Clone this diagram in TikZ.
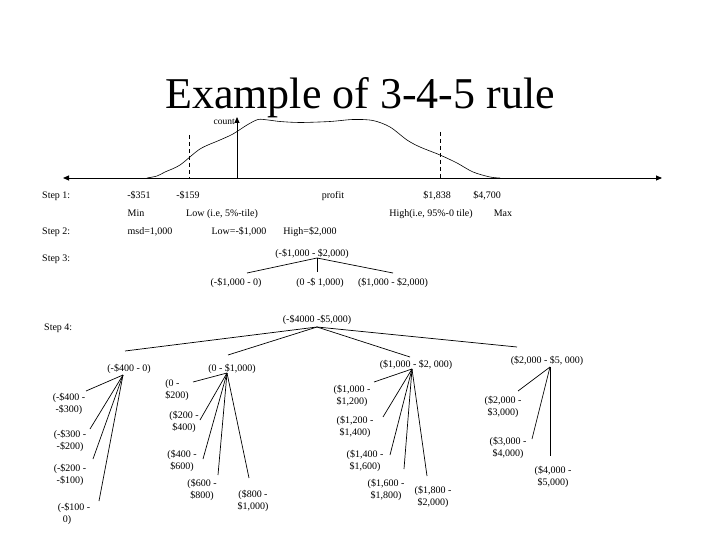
\documentclass[tikz,border=0pt]{standalone}
\usepackage{fontspec}
\setmainfont{Liberation Serif}
\usetikzlibrary{arrows.meta}
\tikzset{
  lbl/.style={inner sep=0pt, font=\fontsize{10}{12.5}\selectfont, align=center},
  bl/.style={lbl, anchor=base},
  conn/.style={line width=0.7pt},
  axisarrow/.style={line width=0.9pt, -{Triangle[length=6pt,width=5pt]}},
}
\begin{document}
\begin{tikzpicture}[x=1pt,y=1pt]
\useasboundingbox (0,0) rectangle (720,-540);
% title
\node[inner sep=0pt, font=\fontsize{44}{48}\selectfont, anchor=base, text depth=0pt] (title) at (360,-109) {Example of 3-4-5 rule};
% axis
\coordinate (axL) at (63,-178);
\coordinate (axR) at (662,-178);
\coordinate (orig) at (237,-178);
\coordinate (axT) at (237,-117);
\draw[axisarrow] (orig) -- (axL);
\draw[axisarrow] (orig) -- (axR);
\draw[axisarrow] (orig) -- (axT);
\node[lbl, anchor=base east, font=\fontsize{9.5}{11}\selectfont] (count) at (235,-125) {count};
% dashed lines
\coordinate (d1a) at (189,-135); \coordinate (d1b) at (189,-178);
\coordinate (d2a) at (440,-132); \coordinate (d2b) at (440,-178);
\draw[conn, dash pattern=on 4pt off 3pt] (d1a) -- (d1b);
\draw[conn, dash pattern=on 4pt off 3pt] (d2a) -- (d2b);
% distribution curve
\draw[line width=0.6pt] plot[smooth, tension=0.5] coordinates {
 (147,-178) (157,-176) (165,-172) (180,-165) (200,-149) (220,-140) (233,-134)
 (247,-125) (258,-119.5) (268,-120) (280,-121.5) (300,-122.5) (330,-121.5) (353,-119.5)
 (373,-120.5) (390,-127) (407,-140) (420,-147) (440,-155) (457,-163)
 (473,-172) (490,-177) (500,-178)};
% step rows
\node[bl, anchor=base west] (s1) at (42,-198.5) {Step 1:};
\node[bl] (v351) at (139,-198.5) {-\$351};
\node[bl] (v159) at (188,-198.5) {-\$159};
\node[bl] (prof) at (333,-198.5) {profit};
\node[bl] (v1838) at (437,-198.5) {\$1,838};
\node[bl] (v4700) at (487,-198.5) {\$4,700};
\node[bl] (min) at (136,-216.5) {Min};
\node[bl] (low) at (222,-216.5) {Low (i.e, 5\%-tile)};
\node[bl] (high) at (431,-216.5) {High(i.e, 95\%-0 tile)};
\node[bl] (max) at (503,-216.5) {Max};
\node[bl, anchor=base west] (s2) at (42,-234.5) {Step 2:};
\node[bl] (msd) at (150,-234.5) {msd=1,000};
\node[bl] (lowv) at (239,-234.5) {Low=-\$1,000};
\node[bl] (highv) at (310,-234.5) {High=\$2,000};
% step 3
\node[bl, anchor=base west] (s3) at (42,-261.5) {Step 3:};
\node[bl] (r3) at (312,-256.5) {(-\$1,000 - \$2,000)};
\coordinate (j3) at (317,-258);
\node[bl] (a3) at (236,-285.5) {(-\$1,000 - 0)};
\node[bl] (b3) at (320,-285.5) {(0 -\$ 1,000)};
\node[bl] (c3) at (393,-285.5) {(\$1,000 - \$2,000)};
\coordinate (ea3) at (247,-273);
\coordinate (eb3) at (317,-272);
\coordinate (ec3) at (393,-273);
\draw[conn] (j3) -- (ea3);
\draw[conn] (j3) -- (eb3);
\draw[conn] (j3) -- (ec3);
% step 4
\node[bl, anchor=base west] (s4) at (44,-330.5) {Step 4:};
\node[bl] (r4) at (317,-322.5) {(-\$4000 -\$5,000)};
\coordinate (j4) at (317,-327);
\coordinate (e4a) at (125,-351);
\coordinate (e4b) at (228,-355);
\coordinate (e4c) at (410,-357);
\coordinate (e4d) at (517,-347);
\draw[conn] (j4) -- (e4a);
\draw[conn] (j4) -- (e4b);
\draw[conn] (j4) -- (e4c);
\draw[conn] (j4) -- (e4d);
\node[bl] (n1) at (129,-371.5) {(-\$400 - 0)};
\node[bl] (n2) at (232,-371.5) {(0 - \$1,000)};
\node[bl] (n3) at (416,-367.5) {(\$1,000 - \$2, 000)};
\node[bl] (n4) at (547,-363.5) {(\$2,000 - \$5, 000)};
% children of (-$400 - 0)
\coordinate (jn1) at (123,-375);
\node[lbl] (n1a) at (69,-404) {(-\$400 -\\-\$300)};
\node[lbl] (n1b) at (70,-441) {(-\$300 -\\-\$200)};
\node[lbl] (n1c) at (70,-475) {(-\$200 -\\-\$100)};
\node[lbl, align=left] (n1d) at (74,-514) {(-\$100 -\\\hspace{5pt}0)};
\coordinate (e1a) at (86,-391);
\coordinate (e1b) at (90,-429);
\coordinate (e1c) at (93,-459);
\coordinate (e1d) at (99,-501);
\foreach \e in {e1a,e1b,e1c,e1d} \draw[conn] (jn1) -- (\e);
% children of (0 - $1,000)
\coordinate (jn2) at (227,-373);
\node[lbl, align=left] (n2a) at (177,-390) {(0 -\\\$200)};
\node[lbl] (n2b) at (184,-422) {(\$200 -\\\$400)};
\node[lbl] (n2c) at (182,-461) {(\$400 -\\\$600)};
\node[lbl] (n2d) at (202,-490) {(\$600 -\\\$800)};
\node[lbl] (n2e) at (253,-501) {(\$800 -\\\$1,000)};
\coordinate (e2a) at (193,-382);
\coordinate (e2b) at (200,-420);
\coordinate (e2c) at (203,-459);
\coordinate (e2d) at (218,-475);
\coordinate (e2e) at (249,-478);
\foreach \e in {e2a,e2b,e2c,e2d,e2e} \draw[conn] (jn2) -- (\e);
% children of ($1,000 - $2,000)
\coordinate (jn3) at (412,-369);
\node[lbl] (n3a) at (352,-396) {(\$1,000 -\\\$1,200)};
\node[lbl] (n3b) at (355,-427) {(\$1,200 -\\\$1,400)};
\node[lbl] (n3c) at (365,-461) {(\$1,400 -\\\$1,600)};
\node[lbl] (n3d) at (386,-490) {(\$1,600 -\\\$1,800)};
\node[lbl] (n3e) at (433,-497) {(\$1,800 -\\\$2,000)};
\coordinate (e3a) at (374,-382);
\coordinate (e3b) at (383,-417);
\coordinate (e3c) at (390,-455);
\coordinate (e3d) at (404,-469);
\coordinate (e3e) at (427,-476);
\foreach \e in {e3a,e3b,e3c,e3d,e3e} \draw[conn] (jn3) -- (\e);
% children of ($2,000 - $5,000)
\coordinate (jn4) at (550,-367);
\node[lbl] (n4a) at (503,-407) {(\$2,000 -\\\$3,000)};
\node[lbl] (n4b) at (508,-448) {(\$3,000 -\\\$4,000)};
\node[lbl] (n4c) at (553,-477) {(\$4,000 -\\\$5,000)};
\coordinate (e4x) at (518,-391);
\coordinate (e4y) at (532,-439);
\coordinate (e4z) at (550,-456);
\foreach \e in {e4x,e4y,e4z} \draw[conn] (jn4) -- (\e);
\end{tikzpicture}
\end{document}
